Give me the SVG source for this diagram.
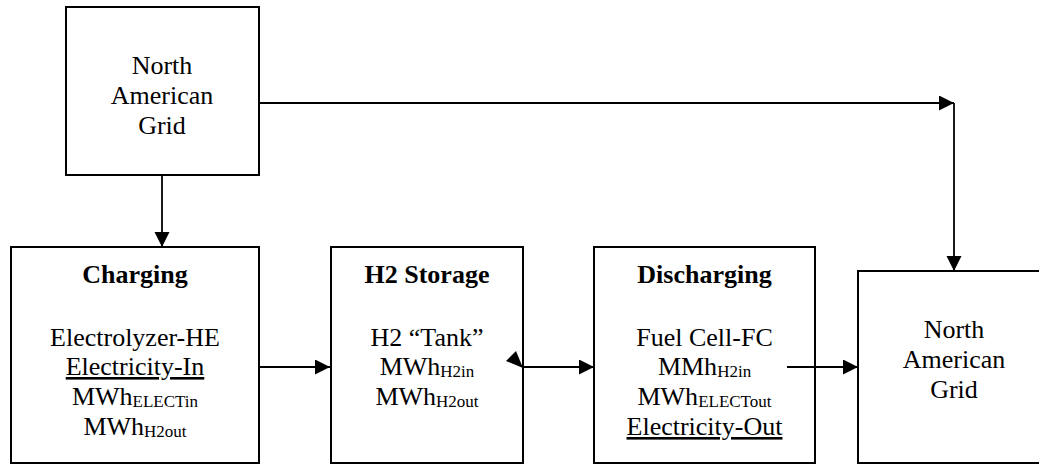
<svg xmlns="http://www.w3.org/2000/svg" width="1039" height="465" viewBox="0 0 1039 465">
<style>
.box{fill:#fff;stroke:#000;stroke-width:2}
text{font-family:'Liberation Serif','Times New Roman','DejaVu Serif',serif;font-size:26px;fill:#000;text-anchor:middle}
.b{font-weight:bold}
.sub{font-size:17px}
.u{text-decoration:underline}
.c{fill:none;stroke:#000;stroke-width:1.8}
</style>
<defs>
<marker id="ah" markerUnits="userSpaceOnUse" markerWidth="16" markerHeight="16" refX="15" refY="7.5" orient="auto">
<path d="M0,0 L15,7.5 L0,15 z" fill="#000"/>
</marker>
</defs>
<g id="grid-top">
<rect class="box" x="66" y="7" width="193" height="168"/>
<text x="162" y="74">North</text>
<text x="162" y="104">American</text>
<text x="162" y="134">Grid</text>
</g>
<g id="charging">
<rect class="box" x="11" y="247" width="248" height="216"/>
<text class="b" x="135" y="283">Charging</text>
<text x="135" y="346">Electrolyzer-HE</text>
<text class="u" x="135" y="375">Electricity-In</text>
<text x="135" y="405">MWh<tspan class="sub" dy="2">ELECTin</tspan></text>
<text x="135" y="435">MWh<tspan class="sub" dy="2">H2out</tspan></text>
</g>
<g id="storage">
<rect class="box" x="331" y="247" width="192" height="216"/>
<text class="b" x="427" y="283">H2 Storage</text>
<text x="427" y="346">H2 “Tank”</text>
<text x="427" y="375">MWh<tspan class="sub" dy="2">H2in</tspan></text>
<text x="427" y="405">MWh<tspan class="sub" dy="2">H2out</tspan></text>
</g>
<g id="discharging">
<rect class="box" x="594" y="247" width="221" height="216"/>
<text class="b" x="704.5" y="283">Discharging</text>
<text x="704.5" y="346">Fuel Cell-FC</text>
<text x="704.5" y="375">MMh<tspan class="sub" dy="2">H2in</tspan></text>
<text x="704.5" y="405">MWh<tspan class="sub" dy="2">ELECTout</tspan></text>
<text class="u" x="704.5" y="435">Electricity-Out</text>
</g>
<g id="grid-right">
<rect class="box" x="858" y="271" width="192" height="192"/>
<text x="954" y="338">North</text>
<text x="954" y="368">American</text>
<text x="954" y="398">Grid</text>
</g>
<g id="connectors">
<line class="c" x1="162" y1="175" x2="162" y2="247" marker-end="url(#ah)"/>
<line class="c" x1="259" y1="103" x2="954" y2="103" marker-end="url(#ah)"/>
<line class="c" x1="954" y1="103" x2="954" y2="271" marker-end="url(#ah)"/>
<line class="c" x1="259" y1="367" x2="330" y2="367" marker-end="url(#ah)"/>
<line class="c" x1="523" y1="367" x2="594" y2="367" marker-end="url(#ah)"/>
<polygon points="516,351 506,361 523,368" fill="#000"/>
<line class="c" x1="787" y1="367" x2="858" y2="367" marker-end="url(#ah)"/>
</g>
</svg>
